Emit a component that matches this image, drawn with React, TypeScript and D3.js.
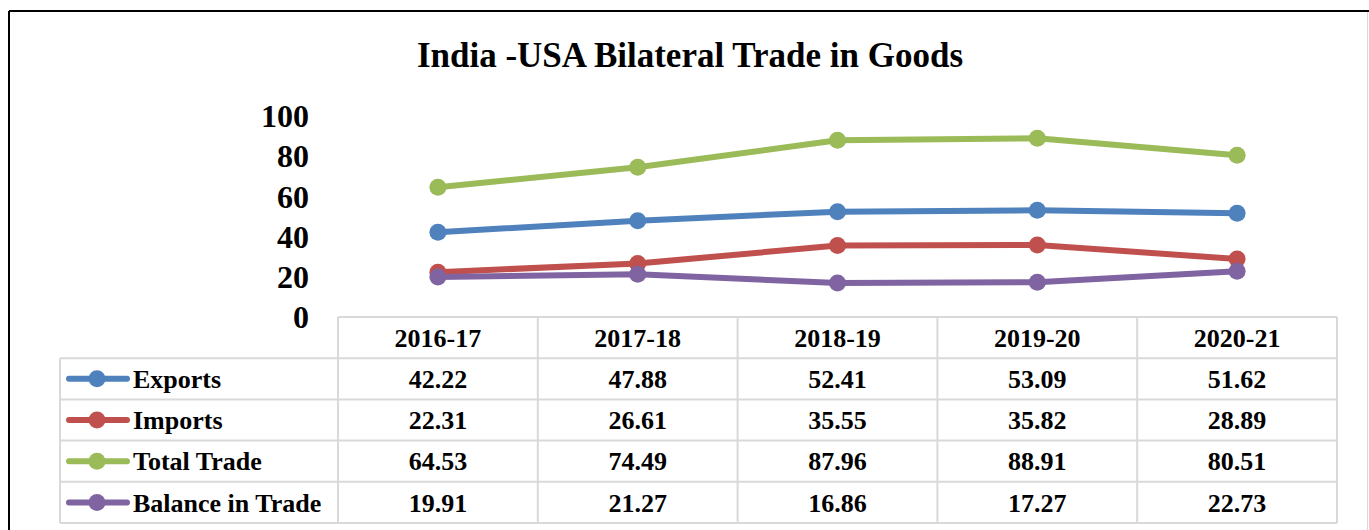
import React from "react";
import * as d3 from "d3";

const categories = ["2016-17", "2017-18", "2018-19", "2019-20", "2020-21"];
const seriesNames = ["Exports", "Imports", "Total Trade", "Balance in Trade"];
const exportsVals = [42.22, 47.88, 52.41, 53.09, 51.62];
const importsVals = [22.31, 26.61, 35.55, 35.82, 28.89];
const totalVals = [64.53, 74.49, 87.96, 88.91, 80.51];
const balanceVals = [19.91, 21.27, 16.86, 17.27, 22.73];
const yTicks = [0, 20, 40, 60, 80, 100];
const colors = ["#4F81BD", "#C0504D", "#9BBB59", "#8064A2"];

const FONT = "'Liberation Serif', 'Times New Roman', serif";

export default function App() {
  const W = 1369, H = 530;
  const series = [exportsVals, importsVals, totalVals, balanceVals];
  const tableLeft = 338, tableRight = 1337;
  const x = d3.scaleBand<string>().domain(categories).range([tableLeft, tableRight]).padding(0);
  const y = d3.scaleLinear().domain([0, 100]).range([317, 116]);
  const line = d3.line<number>().x((_, i) => (x(categories[i]) as number) + x.bandwidth() / 2).y(d => y(d));
  const headerTop = 317, rowH = 41.2;
  const legendLeft = 60;
  const gridColor = "#D9D9D9";

  return (
    <svg width={W} height={H} style={{ position: "absolute", left: 0, top: 0 }} fontFamily={FONT}>
      <rect x={0} y={0} width={W} height={H} fill="#fff" />
      {/* frame */}
      <line x1={9} y1={11} x2={W} y2={11} stroke="#000" strokeWidth={2} />
      <line x1={9} y1={11} x2={9} y2={H} stroke="#000" strokeWidth={2} />
      <line x1={1367.5} y1={12} x2={1367.5} y2={H} stroke="#D9D9D9" strokeWidth={1} />
      <text x={690} y={67} textAnchor="middle" fontSize={35} fontWeight="bold">India -USA Bilateral Trade in Goods</text>
      {/* y axis ticks */}
      {yTicks.map(t => (
        <text key={t} x={309} y={y(t)} dy="0.35em" textAnchor="end" fontSize={32} fontWeight="bold">{t}</text>
      ))}
      {/* table grid */}
      <g stroke={gridColor} strokeWidth={2} fill="none">
        <line x1={tableLeft} y1={headerTop} x2={tableRight} y2={headerTop} />
        {d3.range(1, 6).map(r => (
          <line key={r} x1={legendLeft} y1={headerTop + r * rowH} x2={tableRight} y2={headerTop + r * rowH} />
        ))}
        <line x1={legendLeft} y1={headerTop + rowH} x2={legendLeft} y2={headerTop + 5 * rowH} />
        {categories.map((c) => (
          <line key={c} x1={x(c) as number} y1={headerTop} x2={x(c) as number} y2={headerTop + 5 * rowH} />
        ))}
        <line x1={tableRight} y1={headerTop} x2={tableRight} y2={headerTop + 5 * rowH} />
      </g>
      {categories.map(c => (
        <text key={c} x={(x(c) as number) + x.bandwidth() / 2} y={headerTop + rowH / 2} dy="0.35em" textAnchor="middle" fontSize={26} fontWeight="bold">{c}</text>
      ))}
      {series.map((s, si) => (
        <g key={si}>
          <line x1={69} x2={127} y1={headerTop + (si + 1.5) * rowH} y2={headerTop + (si + 1.5) * rowH} stroke={colors[si]} strokeWidth={6} strokeLinecap="round" />
          <circle cx={97} cy={headerTop + (si + 1.5) * rowH} r={8.5} fill={colors[si]} />
          <text x={133} y={headerTop + (si + 1.5) * rowH} dy="0.35em" fontSize={26} fontWeight="bold">{seriesNames[si]}</text>
          {s.map((v, i) => (
            <text key={i} x={(x(categories[i]) as number) + x.bandwidth() / 2} y={headerTop + (si + 1.5) * rowH} dy="0.35em" textAnchor="middle" fontSize={26} fontWeight="bold">{v.toFixed(2)}</text>
          ))}
        </g>
      ))}
      {/* lines */}
      {series.map((s, si) => (
        <g key={"l" + si}>
          <path d={line(s) as string} fill="none" stroke={colors[si]} strokeWidth={6} strokeLinejoin="round" />
          {s.map((v, i) => (
            <circle key={i} cx={(x(categories[i]) as number) + x.bandwidth() / 2} cy={y(v)} r={8.5} fill={colors[si]} />
          ))}
        </g>
      ))}
    </svg>
  );
}
